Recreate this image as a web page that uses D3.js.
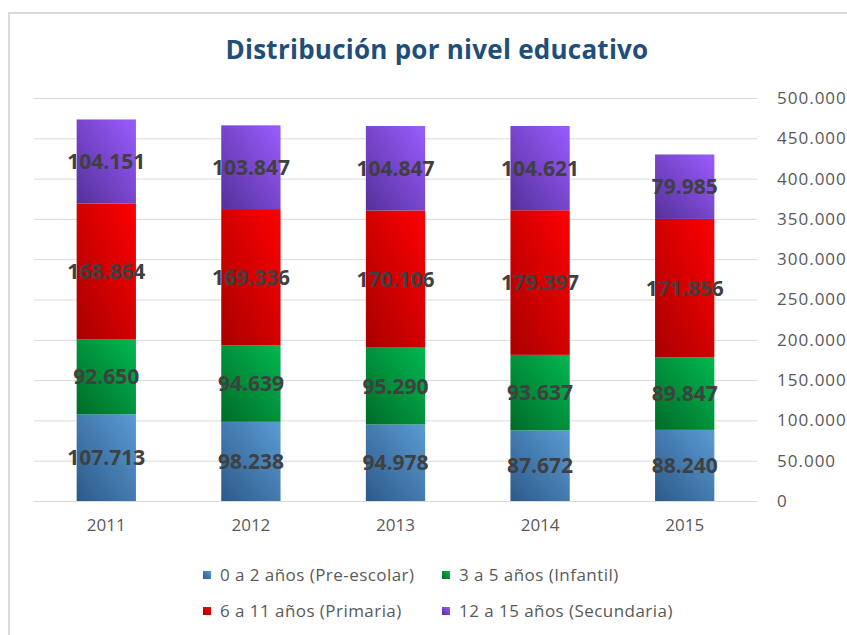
<!DOCTYPE html>
<html>
<head>
<meta charset="utf-8">
<script src="https://cdn.jsdelivr.net/npm/d3@7"></script>
<style>
  body { margin: 0; background: #fff; }
  text { font-family: "Open Sans", sans-serif; }
</style>
</head>
<body>
<script>
const width = 847, height = 635;

// data
const years = ["2011", "2012", "2013", "2014", "2015"];
const series = ["0 a 2 años (Pre-escolar)", "3 a 5 años (Infantil)", "6 a 11 años (Primaria)", "12 a 15 años (Secundaria)"];
const preescolar = [107713, 98238, 94978, 87672, 88240];
const infantil   = [92650, 94639, 95290, 93637, 89847];
const primaria   = [168864, 169336, 170106, 179397, 171856];
const secundaria = [104151, 103847, 104847, 104621, 79985];
const yTicks = [0, 50000, 100000, 150000, 200000, 250000, 300000, 350000, 400000, 450000, 500000];

const keys = ["pre", "inf", "pri", "sec"];
const table = years.map((y, i) => ({
    year: y, pre: preescolar[i], inf: infantil[i], pri: primaria[i], sec: secundaria[i]
}));

// dark (bottom-left) -> light (top-right)
const gradStops = {
    pre: ["#2c5a88", "#5b9bd5"],
    inf: ["#006b28", "#00b850"],
    pri: ["#a80000", "#ff0000"],
    sec: ["#55309a", "#9a5cff"]
};

const es = d3.formatLocale({ decimal: ",", thousands: ".", grouping: [3], currency: ["", " €"] });
const fmt = es.format(",d");

const svg = d3.select("body").append("svg")
    .attr("width", width)
    .attr("height", height);

svg.append("rect").attr("width", width).attr("height", height).attr("fill", "white");

// chart frame (only top and left edges are visible in the crop)
svg.append("path")
    .attr("d", "M9,640 V13 H850")
    .attr("fill", "none")
    .attr("stroke", "#d9d9d9")
    .attr("stroke-width", 2);

const defs = svg.append("defs");
keys.forEach(k => {
    const g = defs.append("linearGradient")
        .attr("id", "g-" + k)
        .attr("x1", 0).attr("y1", 1).attr("x2", 1).attr("y2", 0);
    g.append("stop").attr("offset", 0).attr("stop-color", gradStops[k][0]);
    g.append("stop").attr("offset", 1).attr("stop-color", gradStops[k][1]);
});

const x = d3.scaleBand()
    .domain(years)
    .range([34, 757])
    .paddingInner(0.59)
    .paddingOuter(0.295);

const y = d3.scaleLinear()
    .domain([0, 500000])
    .range([501, 98]);

// gridlines + right axis labels
const yAxis = svg.append("g")
    .attr("transform", "translate(757,0)")
    .call(d3.axisRight(y).tickValues(yTicks).tickSize(-723).tickPadding(20).tickFormat(fmt));
yAxis.select(".domain").remove();
yAxis.selectAll(".tick line").attr("stroke", "#d9d9d9");
yAxis.selectAll(".tick text")
    .attr("fill", "#595959")
    .style("font-size", "17px")
    .style("letter-spacing", "1px")
    .style("font-family", "'Open Sans', sans-serif");

const stack = d3.stack().keys(keys)(table);

const layers = svg.append("g").selectAll("g")
    .data(stack)
    .join("g")
    .attr("fill", d => `url(#g-${d.key})`);

layers.selectAll("rect")
    .data(d => d)
    .join("rect")
    .attr("x", d => x(d.data.year))
    .attr("width", x.bandwidth())
    .attr("y", d => y(d[1]))
    .attr("height", d => y(d[0]) - y(d[1]));

// value labels
const labels = svg.append("g");
stack.forEach(layer => {
    labels.selectAll(null)
        .data(layer)
        .join("text")
        .attr("x", d => x(d.data.year) + x.bandwidth() / 2)
        .attr("y", d => (y(d[0]) + y(d[1])) / 2)
        .attr("dy", "0.36em")
        .attr("text-anchor", "middle")
        .attr("fill", "#404040")
        .style("font-size", "21px")
        .style("font-weight", "bold")
        .text(d => fmt(d[1] - d[0]));
});

// x axis labels
const xAxis = svg.append("g")
    .attr("transform", "translate(0,501)")
    .call(d3.axisBottom(x).tickSize(0).tickPadding(18));
xAxis.select(".domain").remove();
xAxis.selectAll(".tick text")
    .attr("fill", "#595959")
    .style("font-size", "17px")
    .style("font-family", "'Open Sans', sans-serif");

// title
svg.append("text")
    .attr("x", 437)
    .attr("y", 59)
    .attr("text-anchor", "middle")
    .attr("fill", "#1f4e79")
    .style("font-size", "26px")
    .style("letter-spacing", "0.25px")
    .style("font-weight", "bold")
    .text("Distribución por nivel educativo");

// legend
const legendPos = [[203, 575], [442, 575], [203, 611], [442, 611]];
const legend = svg.append("g").selectAll("g")
    .data(keys)
    .join("g")
    .attr("transform", (d, i) => `translate(${legendPos[i][0]},${legendPos[i][1]})`);
legend.append("rect")
    .attr("x", 0).attr("y", -4)
    .attr("width", 8).attr("height", 8)
    .attr("fill", d => `url(#g-${d})`);
legend.append("text")
    .attr("x", 17)
    .attr("dy", "0.36em")
    .attr("fill", "#595959")
    .style("font-size", "17px")
    .style("letter-spacing", "0.45px")
    .text((d, i) => series[i]);
</script>
</body>
</html>
